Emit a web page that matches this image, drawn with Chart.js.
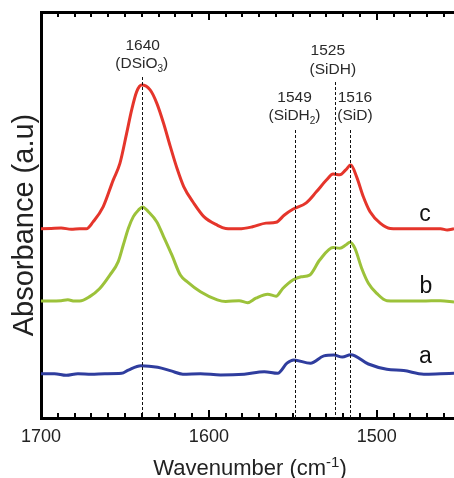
<!DOCTYPE html>
<html><head><meta charset="utf-8">
<script src="https://cdn.jsdelivr.net/npm/chart.js@4/dist/chart.umd.min.js"></script>
<style>html,body{margin:0;padding:0;background:#fff;overflow:hidden}</style>
</head><body>
<canvas id="c" width="454" height="478"></canvas>
<script>
// ---- data (wavenumber in cm-1, absorbance in arbitrary units, offset curves) ----
const wnC = [1700,1694,1688,1682,1677,1673,1669,1663,1657,1653,1649,1646,1643,1640,1635,1631,1627,1623,1619,1615,1609,1603,1595,1590,1582,1574,1566,1560,1555,1550,1542,1536,1530,1526,1522,1518.5,1515.5,1512,1508,1504,1498,1492,1482,1470,1462,1458,1454];
const absC = [46.6,46.7,46.8,46.5,46.6,46.6,48.3,52.0,58.6,62.7,70.1,75.9,80.4,82.0,80.8,77.5,72.6,66.9,61.5,57.0,52.9,49.6,47.5,46.7,46.6,47.1,48.0,48.2,50.0,51.4,53.0,55.7,58.6,60.1,59.9,61.1,62.3,59.4,54.5,50.8,48.0,46.7,46.6,46.6,46.6,46.3,46.6];
const wnB = [1700,1694,1688,1684,1680,1677,1671,1665,1659,1654,1651,1648,1645,1642,1639.5,1636,1631,1627,1622,1617,1613,1605,1595,1590,1582,1577,1572,1565,1560,1556,1550,1545,1540,1534,1526,1522,1518.5,1516,1513,1509,1505,1500,1494,1482,1473,1462,1454];
const absB = [28.8,28.8,28.9,29.1,28.8,28.8,29.9,31.9,35.2,38.5,42.6,46.7,49.6,51.2,52.0,50.8,48.3,44.7,40.1,35.2,33.6,31.1,29.1,28.7,28.9,28.4,29.5,30.5,30.0,31.9,34.0,34.8,35.2,38.9,42.0,41.8,42.6,43.3,41.8,36.9,33.2,30.7,28.9,28.8,28.8,28.9,28.6];
const wnA = [1700,1692,1685,1678,1670,1662,1652,1648,1640.5,1630.5,1622.5,1615.5,1605,1593,1579,1567,1559,1553.5,1549.5,1539.5,1531.5,1525.5,1520.5,1515.5,1505,1494,1484,1472,1462,1454];
const absA = [10.9,10.9,10.5,10.9,10.8,10.9,11.0,11.8,12.9,12.5,11.6,10.8,10.9,10.6,10.8,11.4,11.0,13.5,14.3,13.5,15.3,15.5,15.0,15.6,13.3,12.0,11.7,10.8,10.9,11.0];
const seriesNames = ['c','b','a'];
const xTickLabels = [1700,1600,1500];
const minorTickValues = [1460,1470,1480,1490,1500,1510,1520,1530,1540,1550,1560,1570,1580,1590,1600,1610,1620,1630,1640,1650,1660,1670,1680,1690,1700];
const peakPositions = [1640,1549,1525,1516];
const peakNumbers = ['1640','1549','1525','1516'];
const peakNames = ['(DSiO_3)','(SiDH_2)','(SiDH)','(SiD)'];
const xTitle = 'Wavenumber (cm^-1)';
const yTitle = 'Absorbance (a.u)';
const X_MIN = 1454, X_MAX = 1700;

const FONT = "'Liberation Sans', Arial, Helvetica, sans-serif";
const toPts = (xs, ys) => xs.map((x,i)=>({x:x, y:ys[i]}));

// draws text with _d subscripts and ^.. superscripts, centred at cx
function drawRich(ctx, str, cx, base, size){
  const parts = [];
  const re = /_(\d)|\^([-\d]+)/g; let last = 0, m;
  while((m = re.exec(str))){
    if(m.index>last) parts.push({t:str.slice(last,m.index),k:0});
    if(m[1]) parts.push({t:m[1],k:-1}); else parts.push({t:m[2],k:1});
    last = re.lastIndex;
  }
  if(last<str.length) parts.push({t:str.slice(last),k:0});
  const small = Math.round(size*0.66);
  let w = 0;
  parts.forEach(p=>{ ctx.font = (p.k?small:size)+'px '+FONT; p.w = ctx.measureText(p.t).width; w += p.w; });
  let x = cx - w/2;
  ctx.textAlign = 'left'; ctx.textBaseline = 'alphabetic';
  parts.forEach(p=>{
    ctx.font = (p.k?small:size)+'px '+FONT;
    const dy = p.k === -1 ? size*0.26 : (p.k === 1 ? -size*0.38 : 0);
    ctx.fillText(p.t, x, base + dy); x += p.w;
  });
}

const labelLayout = [
  {dx1:1, dx2:0, b1:50, b2:68, top:77},
  {dx1:0, dx2:0, b1:102, b2:119.5, top:130},
  {dx1:-7, dx2:-2, b1:55, b2:73.5, top:82},
  {dx1:5, dx2:5, b1:102, b2:119.5, top:130}
];
const curveLabelPos = [{x:425, b:220.7},{x:426, b:293.3},{x:425.5, b:363.3}];

const annot = {
  id:'annot',
  afterDraw(chart){
    const ctx = chart.ctx, xs = chart.scales.x, ca = chart.chartArea;
    ctx.save();
    // dashed reference lines
    ctx.strokeStyle = '#111'; ctx.lineWidth = 1; ctx.setLineDash([3,2]);
    peakPositions.forEach((p,i)=>{
      const px = Math.round(xs.getPixelForValue(p)) + 0.5;
      ctx.beginPath(); ctx.moveTo(px, labelLayout[i].top); ctx.lineTo(px, ca.bottom); ctx.stroke();
    });
    ctx.setLineDash([]);
    // peak labels
    ctx.fillStyle = '#2a2a2a';
    peakPositions.forEach((p,i)=>{
      const px = xs.getPixelForValue(p), L = labelLayout[i];
      drawRich(ctx, peakNumbers[i], px + L.dx1, L.b1, 15.5);
      drawRich(ctx, peakNames[i], px + L.dx2, L.b2, 15.5);
    });
    // curve letters
    ctx.fillStyle = '#111';
    ctx.font = '23px ' + FONT; ctx.textAlign = 'center'; ctx.textBaseline = 'alphabetic';
    seriesNames.forEach((s,i)=>{ ctx.fillText(s, curveLabelPos[i].x, curveLabelPos[i].b); });
    // axis titles
    ctx.fillStyle = '#222';
    drawRich(ctx, xTitle, 250, 475, 22);
    ctx.save();
    ctx.translate(33, 225); ctx.rotate(-Math.PI/2);
    drawRich(ctx, yTitle, 0, 0, 29);
    ctx.restore();
    // inward tick marks on bottom and top axes
    ctx.strokeStyle = '#000'; ctx.lineWidth = 2;
    minorTickValues.forEach(v=>{
      const px = Math.round(xs.getPixelForValue(v));
      const len = xTickLabels.includes(v) ? 8 : 5;
      ctx.beginPath();
      ctx.moveTo(px, ca.bottom); ctx.lineTo(px, ca.bottom - len);
      ctx.moveTo(px, ca.top); ctx.lineTo(px, ca.top + len);
      ctx.stroke();
    });
    ctx.restore();
  }
};

const lineDs = (label, xs, ys, color) => ({
  label, data: toPts(xs, ys), borderColor: color, backgroundColor: color,
  borderWidth: 3, pointRadius: 0, tension: 0.4, cubicInterpolationMode: 'monotone',
  fill: false, xAxisID: 'x', yAxisID: 'y'
});

new Chart(document.getElementById('c'), {
  type: 'line',
  data: { datasets: [
    lineDs(seriesNames[0], wnC, absC, '#e5352b'),
    lineDs(seriesNames[1], wnB, absB, '#9cc23a'),
    lineDs(seriesNames[2], wnA, absA, '#2f3d9e')
  ]},
  options: {
    responsive: false, devicePixelRatio: 1, animation: false,
    layout: { padding: 0 },
    plugins: { legend: { display: false }, tooltip: { enabled: false } },
    scales: {
      x: {
        type: 'linear', position: 'bottom', reverse: true, min: X_MIN, max: X_MAX,
        grid: { display: false, drawTicks: false, tickLength: 0 },
        border: { display: true, color: '#000', width: 3 },
        ticks: { stepSize: 100, includeBounds: false, autoSkip: false, maxRotation: 0, padding: 8,
          color: '#222', font: { family: FONT, size: 18 },
          callback: v => xTickLabels.includes(v) ? String(v) : '' },
        title: { display: false },
        afterFit: s => { s.height = 60; }
      },
      x2: {
        type: 'linear', position: 'top', reverse: true, min: X_MIN, max: X_MAX,
        grid: { display: false, drawTicks: false, tickLength: 0 },
        border: { display: true, color: '#000', width: 3 },
        ticks: { display: false },
        afterFit: s => { s.height = 12; }
      },
      y: {
        type: 'linear', position: 'left', min: 0, max: 100,
        grid: { display: false, drawTicks: false, tickLength: 0 },
        border: { display: true, color: '#000', width: 3 },
        ticks: { display: false },
        title: { display: false },
        afterFit: s => { s.width = 41; }
      }
    }
  },
  plugins: [annot]
});
</script>
</body></html>
